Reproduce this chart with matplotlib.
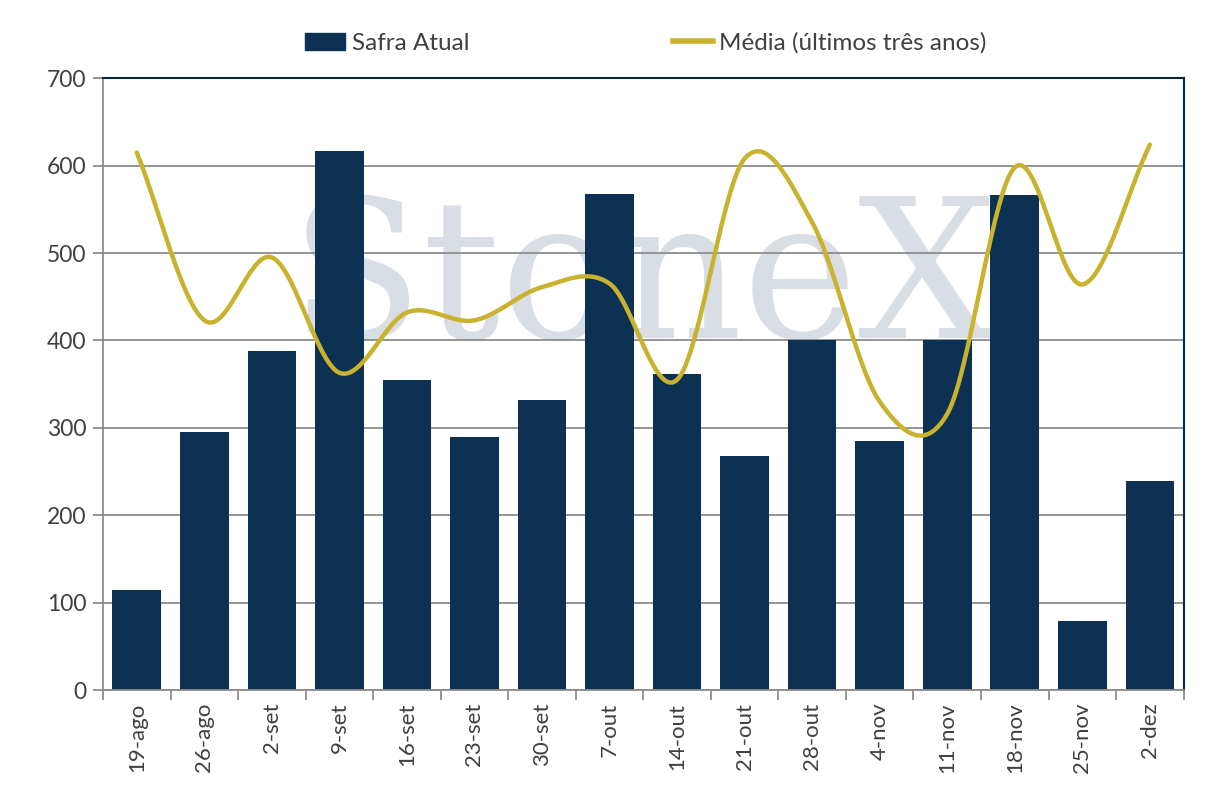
import numpy as np
import matplotlib
matplotlib.use("Agg")
import matplotlib.pyplot as plt
from matplotlib.lines import Line2D
from matplotlib.patches import Patch

categories = ["19-ago", "26-ago", "2-set", "9-set", "16-set", "23-set", "30-set", "7-out",
              "14-out", "21-out", "28-out", "4-nov", "11-nov", "18-nov", "25-nov", "2-dez"]
safra_atual = [115, 295, 388, 617, 355, 290, 332, 568, 362, 268, 400, 285, 400, 566, 79, 239]
media_3anos = [615, 423, 495, 363, 432, 423, 461, 465, 355, 608, 535, 330, 316, 598, 464, 624]
yticks = [0, 100, 200, 300, 400, 500, 600, 700]

BAR = "#0d3153"
LINE = "#c8b22e"
TXT = "#404040"
GRID = "#8c8c8c"

plt.rcParams['font.family'] = ['Lato', 'DejaVu Sans']

fig = plt.figure(figsize=(12.19, 8.10), dpi=100)
ax = fig.add_axes([0.0845, 0.148, 0.8865, 0.7555])

x = np.arange(len(categories))

# watermark
ax.text(0.5, 0.575, "StoneX", transform=ax.transAxes, ha="center", va="baseline",
        fontsize=140, family="DejaVu Serif", color="#d9dee5", zorder=0)

ax.bar(x, safra_atual, width=0.72, color=BAR, zorder=2)

# smooth curve (Catmull-Rom through data points)
def catmull_rom(xs, ys, n=30):
    xs = np.asarray(xs, float); ys = np.asarray(ys, float)
    px = np.concatenate([[2*xs[0]-xs[1]], xs, [2*xs[-1]-xs[-2]]])
    py = np.concatenate([[2*ys[0]-ys[1]], ys, [2*ys[-1]-ys[-2]]])
    outx, outy = [], []
    t = np.linspace(0, 1, n, endpoint=False)
    for i in range(1, len(px)-2):
        for P, out in ((px, outx), (py, outy)):
            p0, p1, p2, p3 = P[i-1], P[i], P[i+1], P[i+2]
            out.extend(0.5*((2*p1) + (-p0+p2)*t + (2*p0-5*p1+4*p2-p3)*t**2 + (-p0+3*p1-3*p2+p3)*t**3))
    outx.append(xs[-1]); outy.append(ys[-1])
    return np.array(outx), np.array(outy)

sx, sy = catmull_rom(x, media_3anos)
ax.plot(sx, sy, color=LINE, lw=3.2, zorder=3, solid_capstyle="round")

ax.set_xlim(-0.5, len(categories)-0.5)
ax.set_ylim(0, 700)
ax.set_yticks(yticks)
ax.set_yticklabels([str(v) for v in yticks], fontsize=16.5, color=TXT)
ax.set_xticks(x)
ax.set_xticklabels(categories, rotation=90, fontsize=16, color=TXT)
ax.tick_params(axis="x", length=0, pad=9)
ax.set_xticks(np.arange(-0.5, len(categories)), minor=True)
ax.tick_params(axis="x", which="minor", length=7, color=GRID, width=1.3)
ax.tick_params(axis="y", length=7, color=GRID, width=1.3, pad=5)

ax.yaxis.grid(True, color=GRID, lw=1.3, zorder=1)
ax.set_axisbelow(True)
for s in ("left", "bottom"):
    ax.spines[s].set_color(GRID)
    ax.spines[s].set_linewidth(1.3)
for s in ("top", "right"):
    ax.spines[s].set_color("#0b2740")
    ax.spines[s].set_linewidth(1.5)

handles = [Patch(facecolor=BAR, edgecolor=BAR), Line2D([0], [0], color=LINE, lw=4)]
leg = fig.legend(handles, ["Safra Atual", "Média (últimos três anos)"], loc="center",
                 bbox_to_anchor=(0.530, 0.947), ncol=2, frameon=False, fontsize=17.5,
                 handlelength=1.65, handletextpad=0.25, columnspacing=8.4)
for t in leg.get_texts():
    t.set_color(TXT)

fig.savefig("out.png", dpi=100)
